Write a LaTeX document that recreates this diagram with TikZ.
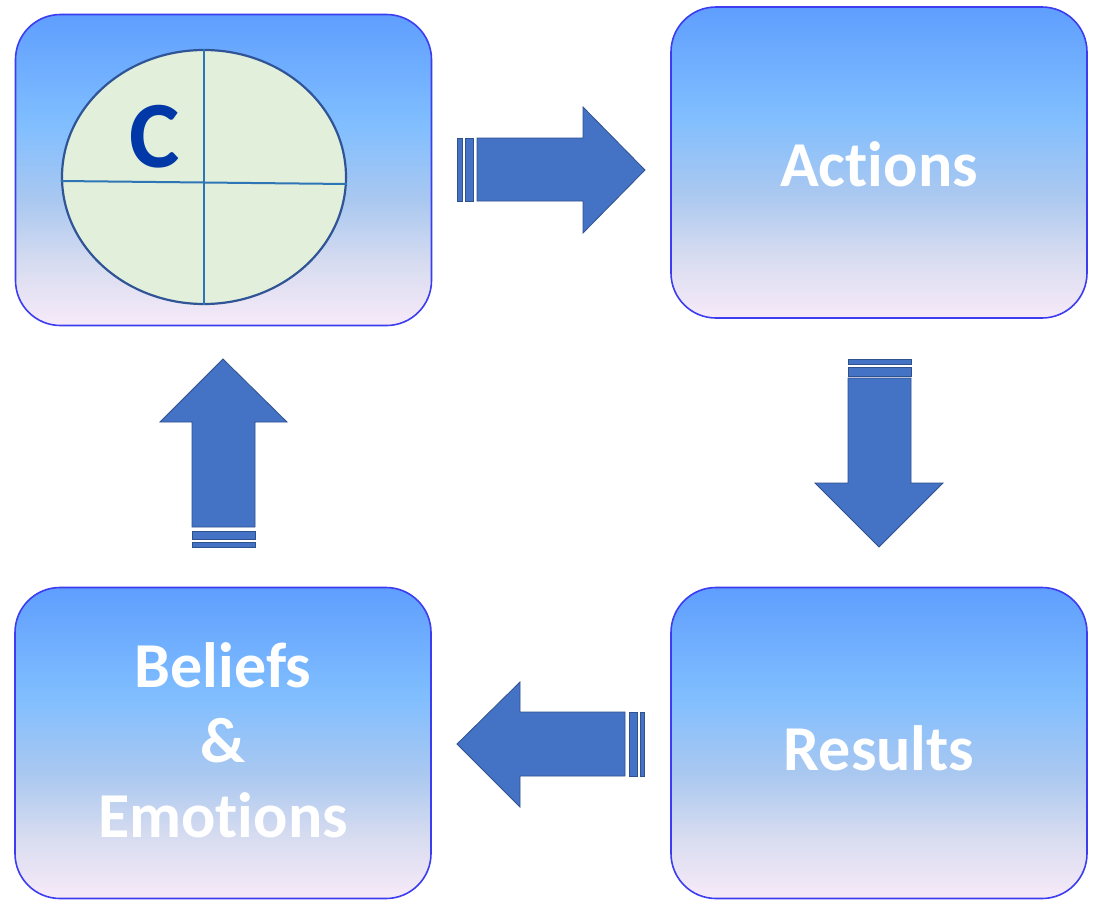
\documentclass[tikz,border=0pt]{standalone}
\usepackage{fontspec}
\setmainfont{Carlito}[Ligatures={NoCommon,NoContextual}]
\usetikzlibrary{shapes.geometric,calc}
\definecolor{boxborder}{RGB}{60,60,240}
\definecolor{shA}{RGB}{95,158,254}
\definecolor{shB}{RGB}{128,190,255}
\definecolor{shC}{RGB}{170,200,240}
\definecolor{shD}{RGB}{215,220,240}
\definecolor{shE}{RGB}{247,234,248}
\definecolor{arrowfill}{RGB}{68,114,196}
\definecolor{arrowdraw}{RGB}{47,82,143}
\definecolor{ellfill}{RGB}{226,239,218}
\definecolor{elldraw}{RGB}{47,85,151}
\definecolor{crossline}{RGB}{46,117,182}
\definecolor{cblue}{RGB}{0,56,168}
\pgfdeclareverticalshading{boxshade}{100bp}{color(0bp)=(shE); color(25bp)=(shE); color(35bp)=(shD); color(45bp)=(shC); color(57.5bp)=(shB); color(75bp)=(shA); color(100bp)=(shA)}
\tikzset{
  stagebox/.style={draw=boxborder, line width=1.6pt, rounded corners=45pt,
    shading=boxshade, minimum width=416pt, minimum height=311pt, inner sep=0pt},
  stagetext/.style={text=white, font=\bfseries\fontsize{64}{75}\selectfont, anchor=base, inner sep=0pt},
  blockarrow/.style={fill=arrowfill, draw=arrowdraw, line width=0.8pt, line join=miter},
}
\begin{document}
\begin{tikzpicture}[x=1pt,y=-1pt]
\useasboundingbox (0,0) rectangle (1093,900);
\fill[white] (0,0) rectangle (1093,900);
% boxes
\node[stagebox] (cbox) at (223.5,170) {};
\node[stagebox] (actbox) at (879,162.5) {};
\node[stagebox] (belbox) at (223,743) {};
\node[stagebox] (resbox) at (879,743) {};
% ellipse
\node[ellipse, draw=elldraw, fill=ellfill, line width=2.2pt, minimum width=284pt, minimum height=254pt, inner sep=0pt] (ell) at (204,177) {};
\draw[crossline, line width=2pt] (ell.north) -- (ell.south);
\draw[crossline, line width=2pt] ($(ell.west)+(0,4)$) -- ($(ell.east)+(0,7)$);
\node[text=cblue, font=\bfseries\fontsize{95}{100}\selectfont, anchor=base, inner sep=0pt] (cletter) at (155,167) {C};
% texts
\node[stagetext] (acttext) at (879,186) {Actions};
\node[stagetext] (restext) at (879,770) {Results};
\node[stagetext] (beltext1) at (223,687) {Beliefs};
\node[stagetext] (beltext2) at (223,762) {\&};
\node[stagetext] (beltext3) at (223,837) {Emotions};
% right arrow
\draw[blockarrow] (457,138) rectangle (462,201);
\draw[blockarrow] (465,138) rectangle (473,201);
\draw[blockarrow] (477,138) -- (583,138) -- (583,107) -- (645,170) -- (583,233) -- (583,201) -- (477,201) -- cycle;
% down arrow
\draw[blockarrow] (848,359) rectangle (911,364);
\draw[blockarrow] (848,367) rectangle (911,376);
\draw[blockarrow] (848,378) -- (911,378) -- (911,483) -- (943,483) -- (879,547) -- (815,483) -- (848,483) -- cycle;
% left arrow
\draw[blockarrow] (629,712) rectangle (637,776);
\draw[blockarrow] (640,712) rectangle (644,776);
\draw[blockarrow] (625,712) -- (520,712) -- (520,682) -- (457,744) -- (520,807) -- (520,776) -- (625,776) -- cycle;
% up arrow
\draw[blockarrow] (192,531) rectangle (255,539);
\draw[blockarrow] (192,542) rectangle (255,547);
\draw[blockarrow] (192,527) -- (192,422) -- (160,422) -- (223,359) -- (287,422) -- (255,422) -- (255,527) -- cycle;
\end{tikzpicture}
\end{document}
